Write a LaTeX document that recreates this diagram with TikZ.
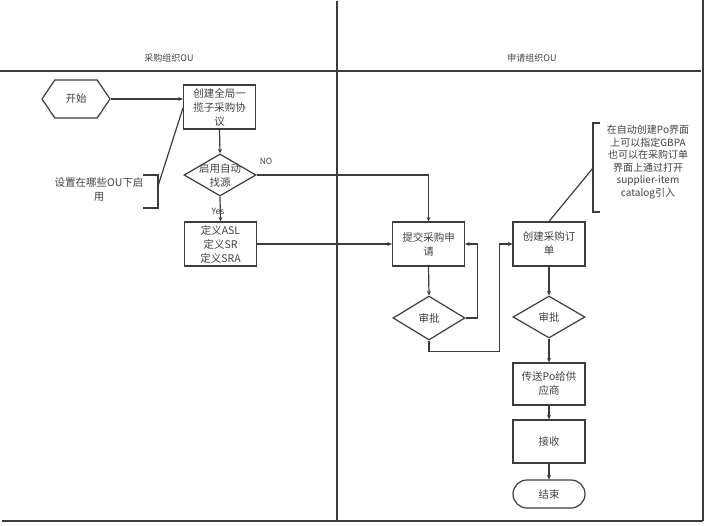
\documentclass[tikz,border=0pt]{standalone}
\usepackage{fontspec}
\newfontfamily\cjk{Noto Sans CJK SC}
\usetikzlibrary{shapes.geometric,shapes.symbols,shapes.misc,arrows.meta}
\definecolor{lc}{HTML}{3C3C3C}
\definecolor{tc}{HTML}{404040}
\begin{document}
\begin{tikzpicture}[x=1pt,y=-1pt,
  ln/.style={draw=lc, line width=1.2pt},
  arr/.style={ln, -{Stealth[length=4.5pt,width=4pt]}},
  txt/.style={text=tc, font=\cjk\fontsize{10.5}{14}\selectfont, align=center, inner sep=0pt},
  box/.style={ln, rectangle, minimum width=72pt, minimum height=44pt, inner sep=1pt, txt},
  dia/.style={ln, diamond, minimum width=72pt, minimum height=42pt, inner sep=0pt},
  lane/.style={draw=lc, line width=1.4pt}]
\useasboundingbox (0,0) rectangle (707,525);

% pool lines
\draw[lane] (0,71) -- (701,71);
\draw[lane] (337,1) -- (337,521);
\draw[lane] (703,0) -- (703,521);
\draw[lane] (2,521) -- (703,521);
\node[txt, font=\cjk\fontsize{9}{11}\selectfont] (h1) at (169,58) {采购组织OU};
\node[txt, font=\cjk\fontsize{9}{11}\selectfont] (h2) at (532,58) {申请组织OU};

% nodes
\node[ln, signal, signal to=east and west, signal pointer angle=112,
      minimum width=68pt, minimum height=38pt, inner sep=0pt, txt] (start) at (76,99) {开始};
\node[box] (b1) at (219.5,107) {创建全局一\\揽子采购协\\议};
\node[dia, label={[txt]center:启用自动\\找源}] (d1) at (220,175) {};
\node[box] (asl) at (220.5,244) {定义ASL\\定义SR\\定义SRA};
\node[box] (sub) at (428.5,244) {提交采购申\\请};
\node[dia, minimum height=44pt, label={[txt]center:审批}] (ap1) at (429,318) {};
\node[box] (po) at (549,244) {创建采购订\\单};
\node[dia, label={[txt]center:审批}] (ap2) at (549,317) {};
\node[box, minimum height=42pt] (send) at (549,384) {传送Po给供\\应商};
\node[box, minimum height=43pt] (recv) at (549,441.5) {接收};
\node[ln, rounded rectangle, minimum width=72pt, minimum height=28pt, inner sep=0pt, txt] (end) at (549,494) {结束};

% annotation 1
\node[txt] (n1) at (99,190) {设置在哪些OU下启\\用};
\draw[ln] (143,175) -- (158,175) -- (158,208) -- (143,208);
\coordinate (n1b) at (158,186);
\draw[ln] (n1b) -- (183,108);

% annotation 2
\node[txt, font=\cjk\fontsize{10}{12.5}\selectfont] (n2) at (648,162) {在自动创建Po界面\\上可以指定GBPA\\也可以在采购订单\\界面上通过打开\\supplier-item\\catalog引入};
\draw[ln] (600,123) -- (593,123) -- (593,212) -- (600,212);
\coordinate (n2b) at (593,168);
\draw[ln] (po.north) -- (n2b);

% connectors
\draw[arr] (start.east) -- (start.east -| b1.west);
\draw[arr] (b1.south) -- (d1.north);
\draw[arr] (d1.south) -- (asl.north);
\node[txt, font=\cjk\fontsize{8.5}{10}\selectfont] (yes) at (218,211) {Yes};
\draw[arr] (d1.east) -| (sub.north);
\node[txt, font=\cjk\fontsize{8.5}{10}\selectfont] (no) at (266,161) {NO};
\draw[arr] (asl.east) -- (sub.west);
\draw[arr] (sub.south) -- (ap1.north);
\draw[arr] (ap1.east) -- ++(12,0) |- (sub.east);
\draw[arr] (ap1.south) -- ++(0,11) -| ([xshift=-13pt]po.west) -- (po.west);
\draw[arr] (po.south) -- (ap2.north);
\draw[arr] (ap2.south) -- (send.north);
\draw[arr] (send.south) -- (recv.north);
\draw[arr] (recv.south) -- (end.north);
\end{tikzpicture}
\end{document}
